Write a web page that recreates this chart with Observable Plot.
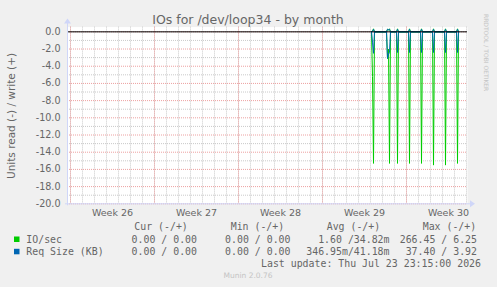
<!DOCTYPE html>
<html><head><meta charset="utf-8">
<script src="https://cdn.jsdelivr.net/npm/d3@7"></script>
<script src="https://cdn.jsdelivr.net/npm/@observablehq/plot@0.6"></script>
<style>html,body{margin:0;padding:0;background:#F0F0F0;overflow:hidden}#chart svg{display:block}</style>
</head><body><div id="chart"></div>
<script>
// ---- text ----
const title = "IOs for /dev/loop34 - by month";
const yLabel = "Units read (-) / write (+)";
const watermark = "RRDTOOL / TOBI OETIKER";
const footer = "Munin 2.0.76";
const lastUpdate = "Last update: Thu Jul 23 23:15:00 2026";
// ---- axes ----
const weekLabels = ["Week 26", "Week 27", "Week 28", "Week 29", "Week 30"];
const weekLabelTimes = ["2026-06-25T12:00Z", "2026-07-02T12:00Z", "2026-07-09T12:00Z", "2026-07-16T12:00Z", "2026-07-23T12:00Z"];
const yTickValues = [0, -2, -4, -6, -8, -10, -12, -14, -16, -18, -20];
const timeDomain = ["2026-06-21T18:00Z", "2026-07-25T02:00Z"];
const yDomain = [-20, 0.55];
// ---- data (2-hour samples) ----
const sampleTimes = [
  "2026-07-17T02:00Z", "2026-07-17T04:00Z", "2026-07-17T06:00Z", "2026-07-17T08:00Z",
  "2026-07-18T08:00Z", "2026-07-18T10:00Z", "2026-07-18T12:00Z", "2026-07-18T14:00Z", "2026-07-18T16:00Z",
  "2026-07-19T04:00Z", "2026-07-19T06:00Z", "2026-07-19T08:00Z",
  "2026-07-20T04:00Z", "2026-07-20T06:00Z", "2026-07-20T08:00Z",
  "2026-07-21T04:00Z", "2026-07-21T06:00Z", "2026-07-21T08:00Z",
  "2026-07-22T04:00Z", "2026-07-22T06:00Z", "2026-07-22T08:00Z",
  "2026-07-23T04:00Z", "2026-07-23T06:00Z", "2026-07-23T08:00Z",
  "2026-07-24T04:00Z", "2026-07-24T06:00Z", "2026-07-24T08:00Z"
];
const ioRead   = [0, 5.2, 15.3, 0,  0, 3.1, 2.0, 15.3, 0,  0, 15.3, 0,  0, 15.3, 0,  0, 15.3, 0,  0, 15.5, 0,  0, 15.5, 0,  0, 15.3, 0];
const ioWrite  = [0, 0.1, 0.35, 0,  0, 0.3, 0.2, 0.35, 0,  0, 0.35, 0,  0, 0.35, 0,  0, 0.35, 0,  0, 0.35, 0,  0, 0.35, 0,  0, 0.35, 0];
const reqRead  = [0, 1.2, 2.5, 0,   0, 3.1, 2.6, 2.4, 0,   0, 2.4, 0,   0, 2.4, 0,   0, 2.4, 0,   0, 2.4, 0,   0, 2.4, 0,   0, 2.4, 0];
const reqWrite = [0, 0.0, 0.3, 0,   0, 0.3, 0.25, 0.3, 0,  0, 0.3, 0,   0, 0.3, 0,   0, 0.3, 0,   0, 0.3, 0,   0, 0.3, 0,   0, 0.3, 0];
// ---- legend ----
const seriesNames = ["IO/sec", "Req Size (KB)"];
const seriesColors = ["#00CC00", "#0066B3"];
const legendHeaders = ["Cur (-/+)", "Min (-/+)", "Avg (-/+)", "Max (-/+)"];
const ioStats = ["0.00 / 0.00", "0.00 / 0.00", "1.60 /34.82m", "266.45 / 6.25"];
const reqStats = ["0.00 / 0.00", "0.00 / 0.00", "346.95m/41.18m", "37.40 / 3.92"];

const parse = s => new Date(s);
const rows = sampleTimes.map((t, i) => ({
  t: parse(t), ioR: -ioRead[i], ioW: ioWrite[i], rqR: -reqRead[i], rqW: reqWrite[i]
}));
const xDom = timeDomain.map(parse);
const days = d3.utcDay.range(xDom[0], xDom[1]);
const weeks = d3.utcMonday.range(xDom[0], xDom[1]);
const minorY = d3.range(-19, 0.5, 2);
const labelDates = weekLabelTimes.map(parse);

const FONT = "DejaVu Sans, sans-serif";
const MONO = "DejaVu Sans Mono, monospace";
const W = 497, H = 287;
const mL = 67, mR = 30, mT = 26.6, mB = 83.7;

const chart = Plot.plot({
  width: W, height: H,
  marginLeft: mL, marginRight: mR, marginTop: mT, marginBottom: mB,
  x: {type: "utc", domain: xDom},
  y: {domain: yDomain},
  style: {background: "#F0F0F0", fontFamily: FONT, color: "#666666", overflow: "visible"},
  marks: [
    Plot.frame({fill: "#FFFFFF", stroke: null}),
    Plot.gridX(days, {stroke: "#cacaca", strokeOpacity: 1, strokeDasharray: "1,1"}),
    Plot.gridY(minorY, {stroke: "#cacaca", strokeOpacity: 1, strokeDasharray: "1,1"}),
    Plot.gridX(weeks, {stroke: "#EDA0A0", strokeOpacity: 1, strokeDasharray: "1,1"}),
    Plot.gridY(yTickValues, {stroke: "#EDA0A0", strokeOpacity: 1, strokeDasharray: "1,1"}),
    Plot.lineY(rows, {x: "t", y: "ioR", stroke: seriesColors[0], strokeWidth: 1}),
    Plot.lineY(rows, {x: "t", y: "ioW", stroke: seriesColors[0], strokeWidth: 1}),
    Plot.lineY(rows, {x: "t", y: "rqR", stroke: seriesColors[1], strokeWidth: 1}),
    Plot.lineY(rows, {x: "t", y: "rqW", stroke: seriesColors[1], strokeWidth: 1}),
    Plot.ruleY([0], {stroke: "#000000", strokeWidth: 1}),
    Plot.axisY({ticks: yTickValues, tickSize: 0, tickPadding: 7, tickFormat: d => d.toFixed(1), fontSize: 9.6, fill: "#666666", label: null}),
    Plot.axisX({ticks: labelDates, tickSize: 0, tickPadding: 5, tickFormat: (d) => weekLabels[labelDates.findIndex(v => +v === +d)], fontSize: 9.5, fill: "#666666", label: null})
  ]
});
document.getElementById("chart").appendChild(chart);

// decorations
const svg = d3.select(chart);
const xs = chart.scale("x"), ys = chart.scale("y");
const pLeft = xs.range[0], pRight = xs.range[1];
const pBottom = ys.range[0], pTop = ys.range[1];
const AX = "#CFD6F8";
const g = svg.append("g");
g.append("line").attr("x1", pLeft + 0.5).attr("x2", pLeft + 0.5).attr("y1", pBottom + 2).attr("y2", pTop - 4).attr("stroke", AX);
g.append("path").attr("d", `M${pLeft - 3},${pTop - 3}L${pLeft + 4},${pTop - 3}L${pLeft + 0.5},${pTop - 8}Z`).attr("fill", AX);
g.append("line").attr("x1", pLeft - 2).attr("x2", pRight + 4).attr("y1", pBottom + 0.5).attr("y2", pBottom + 0.5).attr("stroke", AX);
g.append("path").attr("d", `M${pRight + 3},${pBottom - 3}L${pRight + 3},${pBottom + 4}L${pRight + 8},${pBottom + 0.5}Z`).attr("fill", AX);

const T = (x, y, s, o = {}) => {
  const t = g.append("text").attr("x", x).attr("y", y).text(s)
    .attr("font-family", o.family || FONT).attr("font-size", o.size || 10)
    .attr("fill", o.fill || "#666666").attr("text-anchor", o.anchor || "start");
  if (o.transform) t.attr("transform", o.transform).attr("x", 0).attr("y", 0);
  t.style("white-space", "pre");
  return t;
};
T(248, 23.5, title, {size: 12.5, anchor: "middle"});
T(0, 0, yLabel, {size: 10.5, anchor: "middle", transform: "translate(15,116) rotate(-90)"});
T(0, 0, watermark, {size: 6, fill: "#c4c4c4", transform: "translate(483.5,14) rotate(90)"});

const headerX = [134.3, 230.7, 326.7, 422.7];
const valueEndX = [197, 290.5, 389.5, 477];
legendHeaders.forEach((h, i) => T(headerX[i], 230, h, {family: MONO, size: 9.9}));
[ioStats, reqStats].forEach((stats, r) => {
  const y = 242.5 + r * 12.3;
  g.append("rect").attr("x", 14).attr("y", y - 6).attr("width", 5.5).attr("height", 5.5).attr("fill", seriesColors[r]);
  T(26.3, y, seriesNames[r], {family: MONO, size: 9.9});
  stats.forEach((s, i) => T(valueEndX[i], y, s, {family: MONO, size: 9.9, anchor: "end"}));
});
T(261, 267, lastUpdate, {family: MONO, size: 9.9});
T(248, 278, footer, {size: 7.5, fill: "#c4c4c4", anchor: "middle"});
</script></body></html>
